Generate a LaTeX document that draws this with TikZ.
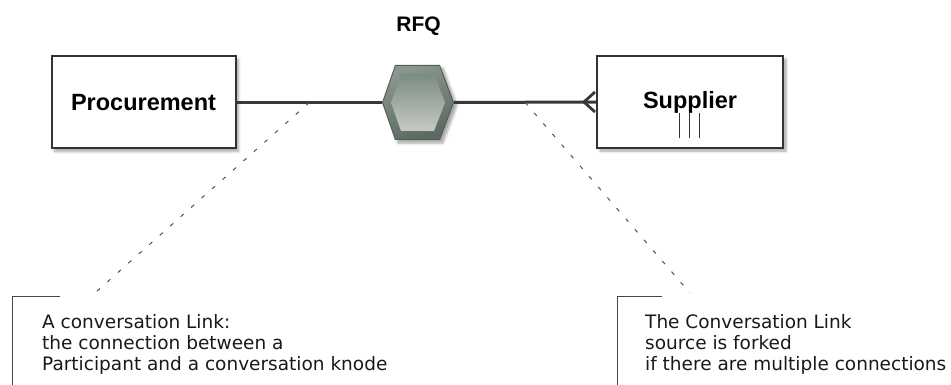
\documentclass[tikz,border=0pt]{standalone}
\usepackage{fontspec}
\setmainfont{Liberation Sans}
\newfontfamily\notefont{DejaVu Sans}
\usetikzlibrary{calc,shadows.blur}

\definecolor{boxline}{HTML}{333333}
\definecolor{linkline}{HTML}{383838}
\definecolor{dashgrey}{HTML}{505050}
\definecolor{hexrimtop}{HTML}{8A968E}
\definecolor{hexrimbot}{HTML}{5C6961}
\definecolor{hexcoretop}{HTML}{7C8C81}
\definecolor{hexcorebot}{HTML}{C6C9C5}
\definecolor{hexedge}{HTML}{525D56}

\begin{document}
\begin{tikzpicture}[x=1pt,y=-1pt,
  party/.style={draw=boxline, line width=2pt, fill=white,
    minimum height=92pt, inner sep=0pt,
    font=\fontsize{23.5}{28}\selectfont\bfseries,
    blur shadow={shadow xshift=3pt, shadow yshift=-3pt,
      shadow opacity=35, shadow blur steps=6, shadow blur radius=2.5pt}},
  link/.style={draw=linkline, line width=3pt},
  fork/.style={draw=linkline, line width=2.8pt, line join=round},
  bars/.style={draw=boxline, line width=1pt},
  noteline/.style={draw=dashgrey, line width=1pt, dash pattern=on 4pt off 10pt},
  bracket/.style={draw=boxline!90, line width=1pt},
  notetext/.style={font=\notefont\fontsize{18.5}{21}\selectfont, align=left,
    inner sep=0pt, anchor=north west, text=black!90},
  title/.style={font=\fontsize{21}{25}\selectfont\bfseries, inner sep=0pt}
]
\useasboundingbox (0,0) rectangle (951,385);

% participants
\node[party, minimum width=184pt] (proc) at (143.5,102.5) {Procurement};
\node[party, minimum width=186pt] (sup) at (690,102) {Supplier};

% conversation node (hexagon)
\node[minimum width=72pt, minimum height=75pt, inner sep=0pt, outer sep=0pt] (hex) at (418,102.5) {};
\fill[hexedge, blur shadow={shadow xshift=3pt, shadow yshift=-3pt,
      shadow opacity=35, shadow blur steps=6, shadow blur radius=2.5pt}]
  (hex.west) -- ($(hex.north west)+(13,0)$) -- ($(hex.north east)+(-14,0)$)
  -- (hex.east) -- ($(hex.south east)+(-14,0)$) -- ($(hex.south west)+(13,0)$) -- cycle;
\shade[top color=hexrimtop, bottom color=hexrimbot, shading angle=20]
  ($(hex.west)+(1.2,0)$) -- ($(hex.north west)+(13.6,1.2)$) -- ($(hex.north east)+(-14.6,1.2)$)
  -- ($(hex.east)+(-1.2,0)$) -- ($(hex.south east)+(-14.6,-1.2)$) -- ($(hex.south west)+(13.6,-1.2)$) -- cycle;
\shade[top color=hexcoretop, bottom color=hexcorebot]
  ($(hex.west)+(9,0)$) -- ($(hex.north west)+(19,9)$) -- ($(hex.north east)+(-20,9)$)
  -- ($(hex.east)+(-9,0)$) -- ($(hex.south east)+(-20,-9)$) -- ($(hex.south west)+(19,-9)$) -- cycle;

\node[title, anchor=base] (rfq) at (418.5,32) {RFQ};

% conversation links
\draw[link] (proc.east) -- coordinate[pos=0.5] (lkA) (hex.west);
\draw[link] (hex.east) -- coordinate[pos=0.5] (lkB) (sup.west);
\draw[fork] ($(sup.west)+(-1,-10)$) -- ($(sup.west)+(-12,0)$) -- ($(sup.west)+(-1,10)$);

% multi-instance marker
\draw[bars] ($(sup.center)+(-11,11)$) -- ++(0,25);
\draw[bars] ($(sup.center)+(-1,11)$) -- ++(0,25);
\draw[bars] ($(sup.center)+(9,11)$) -- ++(0,25);

% annotations
\coordinate (brA) at (12,296);
\coordinate (brAend) at (60,296);
\coordinate (brAbot) at (12,385);
\coordinate (tipA) at (96,292);
\draw[bracket] (brAend) -- (brA) -- (brAbot);
\node[notetext] (noteA) at (42,314.5)
  {A conversation Link:\\the connection between a\\Participant and a conversation knode};
\draw[noteline] (lkA) -- (tipA);

\coordinate (brB) at (617,296);
\coordinate (brBend) at (662,296);
\coordinate (brBbot) at (617,385);
\coordinate (tipB) at (690,293);
\draw[bracket] (brBend) -- (brB) -- (brBbot);
\node[notetext] (noteB) at (645,314)
  {The Conversation Link\\source is forked\\if there are multiple connections};
\draw[noteline] (lkB) -- (tipB);
\end{tikzpicture}
\end{document}
